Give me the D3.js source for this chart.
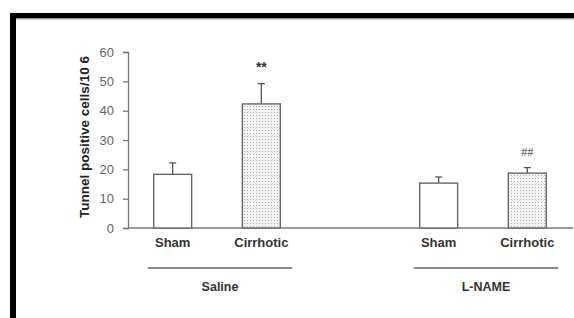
<!DOCTYPE html>
<html>
<head>
<meta charset="utf-8">
<script src="https://cdn.jsdelivr.net/npm/d3@7"></script>
<style>
  body { margin: 0; background: #fff; }
  svg { display: block; font-family: "Liberation Sans", Arial, sans-serif; }
</style>
</head>
<body>
<script>
// Data
const categories = ["Sham", "Cirrhotic", "", "Sham ", "Cirrhotic "];
const labels = ["Sham", "Cirrhotic", "", "Sham", "Cirrhotic"];
const means = [18.3, 42.3, null, 15.3, 18.7];
const errors = [3.9, 6.9, null, 2.1, 1.9];
const marks = ["", "**", "", "", "##"];
const groups = ["Saline", "L-NAME"];
const groupMembers = [[0, 1], [3, 4]];
const yTicks = [0, 10, 20, 30, 40, 50, 60];

const width = 574, height = 318;

const svg = d3.select("body").append("svg")
    .attr("width", width)
    .attr("height", height);

// pattern for the cirrhotic bars
const defs = svg.append("defs");
const pat = defs.append("pattern")
    .attr("id", "dots")
    .attr("width", 3)
    .attr("height", 3)
    .attr("patternUnits", "userSpaceOnUse");
pat.append("rect").attr("width", 3).attr("height", 3).attr("fill", "#f2f2f2");
pat.append("rect").attr("x", 1).attr("y", 1).attr("width", 1).attr("height", 1).attr("fill", "#b0b0b0");

// frame (top and left black borders)
svg.append("rect").attr("x", 10).attr("y", 13).attr("width", width - 10).attr("height", 5).attr("fill", "#000");
svg.append("rect").attr("x", 10).attr("y", 13).attr("width", 6).attr("height", height - 13).attr("fill", "#000");
svg.append("rect").attr("x", 16).attr("y", 18).attr("width", width - 16).attr("height", 1.5).attr("fill", "#999");

const y = d3.scaleLinear().domain([0, 60]).range([228, 52]);
const x = d3.scaleBand().domain(categories).range([128, 572]).paddingInner(0.572).paddingOuter(0.29);

// y axis
const yAxis = svg.append("g")
    .attr("transform", "translate(128,0)")
    .call(d3.axisLeft(y).tickValues(yTicks).tickSize(5).tickPadding(9));
yAxis.select(".domain").attr("stroke", "#777").attr("stroke-width", 1.3);
yAxis.selectAll(".tick line").attr("stroke", "#777").attr("stroke-width", 1.3);
yAxis.selectAll(".tick text").attr("fill", "#666").attr("font-size", 13);

// x baseline
svg.append("line")
    .attr("x1", 128).attr("x2", 573)
    .attr("y1", y(0)).attr("y2", y(0))
    .attr("stroke", "#777").attr("stroke-width", 1.5);

// y title
svg.append("text")
    .attr("transform", `translate(89,${(y(0) + y(60)) / 2 - 3}) rotate(-90)`)
    .attr("text-anchor", "middle")
    .attr("font-size", 13.5)
    .attr("font-weight", "bold")
    .attr("fill", "#222")
    .text("Tunnel positive cells/10 6");

const idx = d3.range(categories.length).filter(i => means[i] != null);

// error bars
idx.forEach(i => {
    const cx = x(categories[i]) + x.bandwidth() / 2;
    svg.append("line")
        .attr("x1", cx).attr("x2", cx)
        .attr("y1", y(means[i])).attr("y2", y(means[i] + errors[i]))
        .attr("stroke", "#555").attr("stroke-width", 1.3);
    svg.append("line")
        .attr("x1", cx - 3.5).attr("x2", cx + 3.5)
        .attr("y1", y(means[i] + errors[i])).attr("y2", y(means[i] + errors[i]))
        .attr("stroke", "#555").attr("stroke-width", 1.3);
});

// bars
svg.selectAll(".bar")
    .data(idx)
    .join("rect")
    .attr("class", "bar")
    .attr("x", i => x(categories[i]))
    .attr("y", i => y(means[i]))
    .attr("width", x.bandwidth())
    .attr("height", i => y(0) - y(means[i]))
    .attr("fill", i => labels[i] === "Cirrhotic" ? "url(#dots)" : "#fff")
    .attr("stroke", "#666")
    .attr("stroke-width", 1.4);

// significance marks
idx.forEach(i => {
    if (!marks[i]) return;
    svg.append("text")
        .attr("x", x(categories[i]) + x.bandwidth() / 2)
        .attr("y", y(means[i] + errors[i]) - 12)
        .attr("text-anchor", "middle")
        .attr("font-size", marks[i] === "**" ? 14 : 11)
        .attr("font-weight", "bold")
        .attr("fill", marks[i] === "**" ? "#333" : "#777")
        .text(marks[i]);
});

// category labels
idx.forEach(i => {
    svg.append("text")
        .attr("x", x(categories[i]) + x.bandwidth() / 2)
        .attr("y", 247)
        .attr("text-anchor", "middle")
        .attr("font-size", 13)
        .attr("font-weight", "bold")
        .attr("fill", "#333")
        .text(labels[i]);
});

// group lines and labels
groups.forEach((g, k) => {
    const a = groupMembers[k][0], b = groupMembers[k][1];
    const x1 = x(categories[a]) - 6, x2 = x(categories[b]) + x.bandwidth() + 12;
    svg.append("line")
        .attr("x1", x1).attr("x2", x2)
        .attr("y1", 268).attr("y2", 268)
        .attr("stroke", "#666").attr("stroke-width", 1.3);
    svg.append("text")
        .attr("x", (x1 + x2) / 2)
        .attr("y", 291)
        .attr("text-anchor", "middle")
        .attr("font-size", 12.5)
        .attr("font-weight", "bold")
        .attr("fill", "#333")
        .text(g);
});
</script>
</body>
</html>
